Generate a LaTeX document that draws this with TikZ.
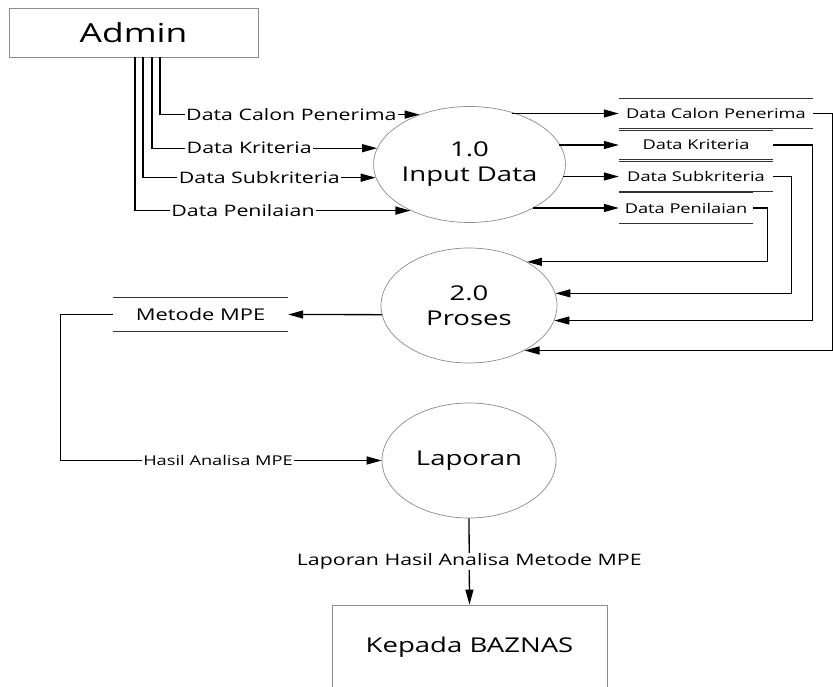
\documentclass[tikz,border=0pt]{standalone}
\usepackage{fontspec}
\setmainfont[FakeStretch=1.35]{Open Sans}
\usetikzlibrary{arrows.meta,shapes.geometric,calc}
\definecolor{edgegray}{RGB}{140,140,140}

\begin{document}
\begin{tikzpicture}[x=1pt,y=-1pt,
  font=\fontsize{15.8}{19}\selectfont,
  ent/.style={draw=edgegray, line width=0.8pt, inner sep=0pt},
  proc/.style={ellipse, draw=edgegray, line width=0.7pt, minimum width=175pt,
    minimum height=116pt, inner sep=0pt, align=center,
    font=\fontsize{20.4}{25}\selectfont},
  store/.style={inner sep=0pt, font=\fontsize{13.5}{16}\selectfont},
  storeline/.style={draw=black!80, line width=1pt},
  flow/.style={draw=black, line width=1.3pt, -{Triangle[length=15pt,width=8pt]}},
  lbl/.style={fill=white, inner xsep=1.5pt, inner ysep=1pt}
]
\useasboundingbox[fill=white] (0,0) rectangle (833,687);

% external entities
\node[ent, minimum width=249pt, minimum height=49pt,
  font=\fontsize{26.2}{30}\selectfont] (admin) at (133.5,32.5) {Admin};
\node[ent, minimum width=275pt, minimum height=84pt,
  font=\fontsize{20.4}{24}\selectfont] (kep) at (469.5,647) {Kepada BAZNAS};

% processes
\node[proc] (in1) at (469.5,164.5) {1.0\\Input Data};
\node[proc, minimum width=176pt, minimum height=115pt] (pr) at (469,305.5) {2.0\\Proses};
\node[proc, minimum width=174pt, minimum height=115pt] (lap) at (469,460.5) {Laporan};

% data stores
\node[store, minimum width=194pt, minimum height=29pt] (st1) at (716,113.5) {Data Calon Penerima};
\node[store, minimum width=154pt, minimum height=28pt] (st2) at (696,145) {Data Kriteria};
\node[store, minimum width=154pt, minimum height=29pt] (st3) at (696,176.5) {Data Subkriteria};
\node[store, minimum width=134pt, minimum height=30pt] (st4) at (686,208) {Data Penilaian};
\node[store, minimum width=175pt, minimum height=33pt,
  font=\fontsize{16.2}{19}\selectfont] (mpe) at (200.5,314.5) {Metode MPE};
\foreach \s in {st1,st2,st3,st4,mpe}
  \draw[storeline] (\s.north west) -- (\s.north east) (\s.south west) -- (\s.south east);

% Admin -> Input Data
\draw[flow] ($(admin.south)+(26.5,0)$) |- node[lbl,pos=0.753] (l1) {Data Calon Penerima} (in1.135);
\draw[flow] ($(admin.south)+(18.5,0)$) |- node[lbl,pos=0.716] (l2) {Data Kriteria} (in1.170);
\draw[flow] ($(admin.south)+(9.5,0)$) |- node[lbl,pos=0.75] (l3) {Data Subkriteria} (in1.188);
\draw[flow] ($(admin.south)+(1.5,0)$) |- node[lbl,pos=0.696] (l4) {Data Penilaian} (in1.218);

% Input Data -> stores
\draw[flow] (in1.51 |- st1.west) -- (st1.west);
\draw[flow] (in1.13 |- st2.west) -- (st2.west);
\draw[flow] (in1.-8 |- st3.west) -- (st3.west);
\draw[flow] (in1.-35 |- st4.west) -- (st4.west);

% stores -> Proses
\draw[flow] (st1.east) -- ++(19,0) |- (pr.-39);
\draw[flow] (st2.east) -- ++(39,0) |- (pr.-10);
\draw[flow] (st3.east) -- ++(18,0) |- (pr.8);
\draw[flow] (st4.east) -- ++(14,0) |- (pr.37);

% Proses -> Metode MPE -> Laporan -> BAZNAS
\draw[flow] (pr.186) -- (mpe.east);
\draw[flow] (mpe.west) -- ++(-52,0) |- node[lbl,pos=0.745,
  font=\fontsize{13.5}{16}\selectfont] (l5) {Hasil Analisa MPE} (lap.west);
\draw[flow] (lap.south) -- node[lbl] (l6) {Laporan Hasil Analisa Metode MPE} (kep.north);
\end{tikzpicture}
\end{document}
